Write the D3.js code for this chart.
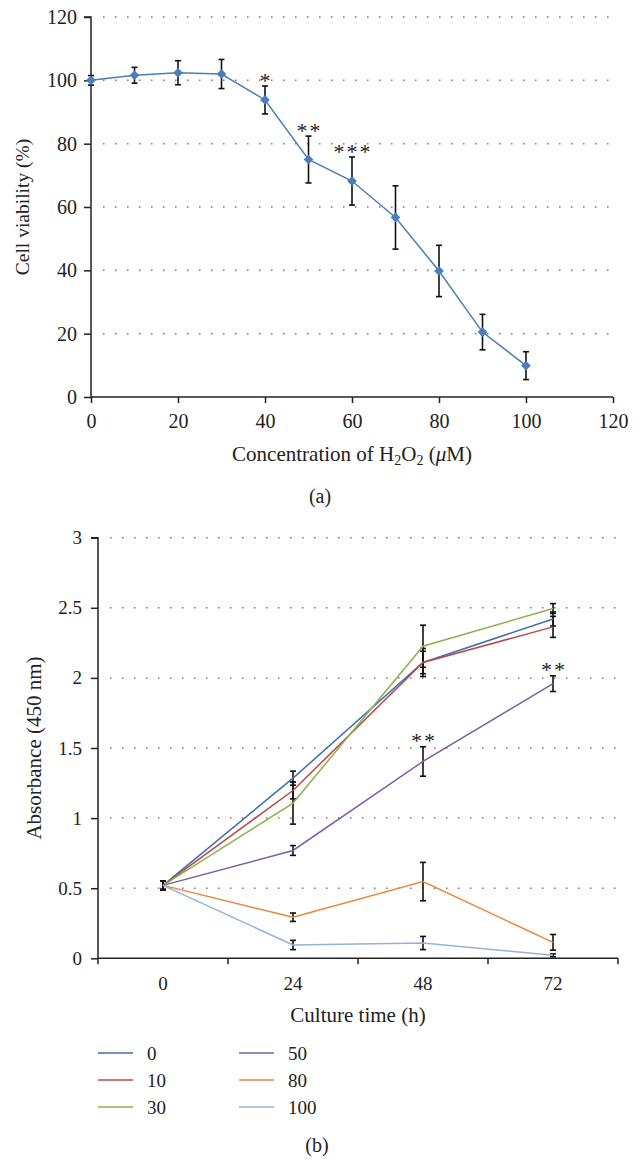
<!DOCTYPE html>
<html>
<head>
<meta charset="utf-8">
<script src="https://cdn.jsdelivr.net/npm/d3@7"></script>
<style>
  body { margin: 0; background: #fff; }
  svg { display: block; font-family: "Liberation Serif", "DejaVu Serif", serif; }
  .axis path, .axis line { stroke: #222; stroke-width: 1.5; }
  .axis text { fill: #222; font-family: "Liberation Serif", serif; }
  .grid line { stroke: #777; stroke-width: 1.5; stroke-dasharray: 1.5 10.5; }
</style>
</head>
<body>
<script>
// ---------- (a) cell viability ----------
const conc = [0, 10, 20, 30, 40, 50, 60, 70, 80, 90, 100];
const viability = [100, 101.6, 102.4, 102, 93.8, 75.0, 68.2, 56.7, 39.8, 20.5, 9.9];
const viabilityErr = [1.5, 2.5, 3.8, 4.6, 4.4, 7.4, 7.6, 10, 8.1, 5.6, 4.4];
const viabilityStars = ["", "", "", "", "*", "**", "***", "", "", "", ""];
const concTicks = [0, 20, 40, 60, 80, 100, 120];
const viabilityTicks = [0, 20, 40, 60, 80, 100, 120];

// ---------- (b) absorbance ----------
const times = ["0", "24", "48", "72"];
const groups = ["0", "10", "30", "50", "80", "100"];
const abs0 = [0.52, 1.285, 2.11, 2.42];
const abs10 = [0.52, 1.197, 2.11, 2.364];
const abs30 = [0.52, 1.107, 2.226, 2.495];
const abs50 = [0.52, 0.769, 1.404, 1.959];
const abs80 = [0.52, 0.293, 0.547, 0.114];
const abs100 = [0.52, 0.095, 0.109, 0.021];
const err0 = [0.03, 0.05, 0.08, 0.05];
const err10 = [0.03, 0.06, 0.1, 0.075];
const err30 = [0.03, 0.15, 0.15, 0.035];
const err50 = [0.03, 0.035, 0.105, 0.056];
const err80 = [0.03, 0.03, 0.137, 0.056];
const err100 = [0.03, 0.033, 0.047, 0.01];
const stars50 = ["", "", "**", "**"];
const absTicks = [0, 0.5, 1, 1.5, 2, 2.5, 3];
const groupColors = ["#3f6fad", "#b94a47", "#8db150", "#7b5ea3", "#e9873d", "#95b0d9"];

const width = 640, height = 1160;

const svg = d3.select("body").append("svg")
  .attr("width", width)
  .attr("height", height);

svg.append("rect").attr("width", width).attr("height", height).attr("fill", "#fff");

//////////// chart (a) ////////////
const xA = d3.scaleLinear().domain([0, 120]).range([91, 613]);
const yA = d3.scaleLinear().domain([0, 120]).range([397, 17]);

svg.append("g").attr("class", "grid")
  .selectAll("line")
  .data(viabilityTicks.filter((d) => d > 0))
  .enter().append("line")
  .attr("x1", xA(0) + 12).attr("x2", xA(120) - 3)
  .attr("y1", (d) => yA(d)).attr("y2", (d) => yA(d));

svg.append("g").attr("class", "axis")
  .attr("transform", `translate(${xA(0)},0)`)
  .call(d3.axisLeft(yA).tickValues(viabilityTicks).tickSize(7).tickPadding(7))
  .call((g) => g.select(".domain").attr("d", `M-7,${yA(120)}H0V${yA(0)}`))
  .call((g) => g.selectAll("text").attr("font-size", 20));

svg.append("g").attr("class", "axis")
  .attr("transform", `translate(0,${yA(0)})`)
  .call(d3.axisBottom(xA).tickValues(concTicks).tickSize(6).tickPadding(11))
  .call((g) => g.select(".domain").attr("d", `M${xA(0)},0H${xA(120)}`))
  .call((g) => g.selectAll("text").attr("font-size", 20));

// error bars
const errA = svg.append("g").attr("stroke", "#111").attr("stroke-width", 1.6);
conc.forEach((c, i) => {
  const x = xA(c), t = yA(viability[i] + viabilityErr[i]), b = yA(viability[i] - viabilityErr[i]);
  errA.append("line").attr("x1", x).attr("x2", x).attr("y1", t).attr("y2", b);
  errA.append("line").attr("x1", x - 3).attr("x2", x + 3).attr("y1", t).attr("y2", t);
  errA.append("line").attr("x1", x - 3).attr("x2", x + 3).attr("y1", b).attr("y2", b);
});

const lineA = d3.line().x((d) => xA(d[0])).y((d) => yA(d[1]));
svg.append("path")
  .datum(conc.map((c, i) => [c, viability[i]]))
  .attr("d", lineA)
  .attr("fill", "none")
  .attr("stroke", "#4a7ebb")
  .attr("stroke-width", 1.5);

svg.append("g").selectAll("path")
  .data(conc)
  .enter().append("path")
  .attr("d", d3.symbol(d3.symbolDiamond2, 60))
  .attr("transform", (d, i) => `translate(${xA(d)},${yA(viability[i])})`)
  .attr("fill", "#4a7ebb");

svg.append("g").selectAll("text")
  .data(conc)
  .enter().append("text")
  .attr("x", (d) => xA(d) + 1)
  .attr("y", (d, i) => yA(viability[i] + viabilityErr[i]) + 2)
  .attr("text-anchor", "middle")
  .attr("font-size", 22)
  .attr("letter-spacing", 2)
  .attr("fill", "#222")
  .text((d, i) => viabilityStars[i]);

svg.append("text")
  .attr("transform", `translate(29,${yA(60)}) rotate(-90)`)
  .attr("text-anchor", "middle")
  .attr("font-size", 19.5)
  .attr("fill", "#222")
  .text("Cell viability (%)");

const titleA = svg.append("text")
  .attr("x", xA(60)).attr("y", 461)
  .attr("text-anchor", "middle")
  .attr("font-size", 21)
  .attr("fill", "#222");
titleA.append("tspan").text("Concentration of H");
titleA.append("tspan").attr("font-size", 14).attr("dy", 4).text("2");
titleA.append("tspan").attr("dy", -4).text("O");
titleA.append("tspan").attr("font-size", 14).attr("dy", 4).text("2");
titleA.append("tspan").attr("dy", -4).text(" (");
titleA.append("tspan").attr("font-style", "italic").text("μ");
titleA.append("tspan").text("M)");

svg.append("text")
  .attr("x", 320).attr("y", 503)
  .attr("text-anchor", "middle")
  .attr("font-size", 20)
  .attr("fill", "#222")
  .text("(a)");

//////////// chart (b) ////////////
const xB = d3.scaleBand().domain(times).range([98, 618]);
const yB = d3.scaleLinear().domain([0, 3]).range([958.3, 537.7]);
const cx = (t) => xB(t) + xB.bandwidth() / 2;

svg.append("g").attr("class", "grid")
  .selectAll("line")
  .data(absTicks.filter((d) => d > 0))
  .enter().append("line")
  .attr("x1", 110).attr("x2", 616)
  .attr("y1", (d) => yB(d)).attr("y2", (d) => yB(d));

svg.append("g").attr("class", "axis")
  .attr("transform", `translate(98,0)`)
  .call(d3.axisLeft(yB).tickValues(absTicks).tickFormat(d3.format("")).tickSize(7).tickPadding(9))
  .call((g) => g.select(".domain").attr("d", `M-7,${yB(3)}H0V${yB(0)}`))
  .call((g) => g.selectAll("text").attr("font-size", 19));

const axisB = svg.append("g").attr("class", "axis")
  .attr("transform", `translate(0,${yB(0)})`)
  .call(d3.axisBottom(xB).tickSize(0).tickPadding(18))
  .call((g) => g.select(".domain").attr("d", `M98,0H618`))
  .call((g) => g.selectAll("text").attr("font-size", 19));
axisB.selectAll(".edge")
  .data(times.map((t) => xB(t)).concat([618]))
  .enter().append("line")
  .attr("class", "edge")
  .attr("x1", (d) => d).attr("x2", (d) => d)
  .attr("y1", 0).attr("y2", 6);

const seriesB = [abs0, abs10, abs30, abs50, abs80, abs100];
const errsB = [err0, err10, err30, err50, err80, err100];

const errB = svg.append("g").attr("stroke", "#111").attr("stroke-width", 1.6);
seriesB.forEach((vals, s) => {
  times.forEach((t, i) => {
    const x = cx(t), tp = yB(vals[i] + errsB[s][i]), bt = yB(Math.max(0, vals[i] - errsB[s][i]));
    errB.append("line").attr("x1", x).attr("x2", x).attr("y1", tp).attr("y2", bt);
    errB.append("line").attr("x1", x - 3).attr("x2", x + 3).attr("y1", tp).attr("y2", tp);
    errB.append("line").attr("x1", x - 3).attr("x2", x + 3).attr("y1", bt).attr("y2", bt);
  });
});

const lineB = d3.line().x((d, i) => cx(times[i])).y((d) => yB(d));
svg.append("g").selectAll("path")
  .data(seriesB)
  .enter().append("path")
  .attr("d", lineB)
  .attr("fill", "none")
  .attr("stroke", (d, i) => groupColors[i])
  .attr("stroke-width", 1.5);

svg.append("g").selectAll("text")
  .data(times)
  .enter().append("text")
  .attr("x", (d) => cx(d) + 1)
  .attr("y", (d, i) => yB(abs50[i] + err50[i]) + 1)
  .attr("text-anchor", "middle")
  .attr("font-size", 22)
  .attr("letter-spacing", 2)
  .attr("fill", "#222")
  .text((d, i) => stars50[i]);

svg.append("text")
  .attr("transform", `translate(41,${yB(1.5)}) rotate(-90)`)
  .attr("text-anchor", "middle")
  .attr("font-size", 21)
  .attr("fill", "#222")
  .text("Absorbance (450 nm)");

svg.append("text")
  .attr("x", 358).attr("y", 1022)
  .attr("text-anchor", "middle")
  .attr("font-size", 21)
  .attr("fill", "#222")
  .text("Culture time (h)");

// legend
const legend = svg.append("g").attr("id", "legend");
const legendItem = legend.selectAll("g")
  .data(groups)
  .enter().append("g")
  .attr("transform", (d, i) => `translate(${98 + Math.floor(i / 3) * 141},${1053 + (i % 3) * 27})`);
legendItem.append("line")
  .attr("x1", 0).attr("x2", 35)
  .attr("stroke", (d, i) => groupColors[i])
  .attr("stroke-width", 1.5);
legendItem.append("text")
  .attr("x", 49).attr("dy", "0.35em")
  .attr("font-size", 19)
  .attr("fill", "#222")
  .text((d) => d);

svg.append("text")
  .attr("x", 317).attr("y", 1152)
  .attr("text-anchor", "middle")
  .attr("font-size", 20)
  .attr("fill", "#222")
  .text("(b)");
</script>
</body>
</html>
